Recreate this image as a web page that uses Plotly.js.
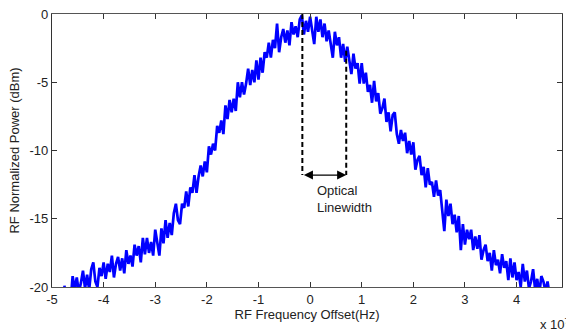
<!DOCTYPE html>
<html>
<head>
<meta charset="utf-8">
<script src="https://cdn.plot.ly/plotly-3.0.1.min.js"></script>
<style>html,body{margin:0;padding:0;background:#fff;}#chart{width:566px;height:330px;}</style>
</head>
<body>
<div id="chart"></div>
<script>
// Frequency grid (units of 1e7 Hz): first sample and spacing
const freqStart = -4.76;
const freqStep = 0.04;

// RF normalized power (dBm) (10 samples per row)
const power = [
 -19.9,-20.9,-20.1,-21.1,-19.2,-20.2,-19.3,-20.4,-19.7,-18.8,
 -20.1,-19.1,-20.2,-18.7,-18.2,-19.6,-20.0,-18.6,-19.2,-18.2,
 -19.4,-18.3,-18.9,-17.7,-19.3,-18.3,-17.8,-18.8,-17.9,-19.0,
 -17.3,-18.3,-17.7,-18.5,-16.9,-17.7,-17.0,-18.2,-16.4,-17.6,
 -16.4,-17.5,-16.7,-17.7,-15.8,-16.9,-17.7,-15.7,-16.8,-15.1,
 -16.4,-15.3,-16.2,-14.6,-13.9,-15.1,-15.4,-13.9,-14.2,-13.0,
 -14.1,-12.7,-13.1,-11.8,-13.1,-11.9,-11.1,-11.9,-10.8,-11.6,
 -9.7,-10.3,-9.5,-10.0,-8.2,-8.7,-7.8,-8.8,-6.7,-7.7,
 -6.3,-7.2,-6.2,-7.1,-5.0,-6.1,-5.0,-5.9,-5.1,-4.0,
 -5.2,-4.1,-5.0,-3.4,-4.8,-3.2,-4.3,-2.8,-3.2,-2.1,
 -3.2,-1.9,-2.5,-0.7,-2.8,-1.7,-1.1,-2.1,-1.2,-2.3,
 -0.6,-1.5,-0.9,-1.7,-0.4,-0.1,-1.5,-0.5,-1.3,-0.2,
 -1.3,-2.2,-0.2,-1.3,-0.4,-1.7,-0.7,-2.0,-1.2,-2.1,
 -3.2,-1.3,-2.3,-1.7,-3.2,-2.2,-3.5,-2.4,-3.5,-4.4,
 -2.9,-4.0,-3.6,-5.1,-3.6,-5.1,-4.3,-5.7,-5.2,-6.5,
 -4.9,-6.4,-5.8,-7.3,-6.9,-6.2,-7.9,-7.2,-8.6,-7.4,
 -7.2,-8.8,-9.5,-8.5,-9.3,-8.7,-10.2,-9.3,-10.3,-9.4,
 -11.4,-10.7,-10.4,-11.8,-11.2,-12.7,-11.3,-12.5,-12.3,-13.4,
 -12.2,-13.3,-12.9,-14.5,-15.9,-13.6,-14.8,-13.9,-15.4,-14.7,
 -16.0,-14.8,-17.3,-15.4,-16.9,-15.8,-16.5,-15.8,-17.3,-16.3,
 -17.2,-16.2,-18.0,-17.3,-16.9,-18.1,-17.5,-18.8,-17.3,-18.4,
 -18.0,-19.0,-17.6,-18.6,-18.1,-19.5,-17.9,-19.3,-18.2,-19.5,
 -18.9,-20.0,-18.3,-19.6,-18.8,-20.1,-19.6,-18.7,-20.2,-19.4,
 -20.5,-19.2,-19.6,-20.3,-19.6,-20.6,-20.1,-20.9
];

// Linewidth markers (units of 1e7 Hz / dBm)
const markLeftX = -0.15;
const markRightX = 0.70;
const markLeftTop = 0;
const markRightTop = -2.7;
const markArrowY = -11.8;
const labelText = "Optical<br>Linewidth";
const labelX = 0.1;
const labelY = -13.55;

const xTicks = [-5,-4,-3,-2,-1,0,1,2,3,4,5];
const yTicks = [-20,-15,-10,-5,0];

const font = {family: "Liberation Sans, Arial, sans-serif", size: 13, color: "#222"};
const dashLine = {color: "#000", width: 2, dash: "5px,3px"};

const trace = {
  type: "scatter", mode: "lines",
  y: power, x0: freqStart, dx: freqStep,
  line: {color: "#0000ff", width: 2.7},
  hoverinfo: "skip"
};

const layout = {
  width: 566, height: 330,
  margin: {l: 52, r: 4, t: 14, b: 43},
  paper_bgcolor: "#fff", plot_bgcolor: "#fff",
  showlegend: false,
  font: font,
  xaxis: {
    range: [-5, 4.88], tickvals: xTicks, ticktext: xTicks.map(String),
    ticks: "inside", ticklen: 5, tickcolor: "#333", showline: true, linecolor: "#555", linewidth: 1.2,
    mirror: "ticks", showgrid: false, zeroline: false, tickfont: font,
    title: {text: "RF Frequency Offset(Hz)", font: font, standoff: 4}
  },
  yaxis: {
    range: [-20, 0], tickvals: yTicks, ticktext: yTicks.map(String),
    ticks: "inside", ticklen: 5, tickcolor: "#333", showline: true, linecolor: "#333", linewidth: 1.2,
    mirror: "ticks", showgrid: false, zeroline: false, tickfont: font,
    title: {text: "RF Normalized Power (dBm)", font: font, standoff: 6}
  },
  shapes: [
    {type: "line", xref: "x", yref: "y", x0: markLeftX, x1: markLeftX, y0: markLeftTop, y1: markArrowY, line: dashLine, layer: "above"},
    {type: "line", xref: "x", yref: "y", x0: markRightX, x1: markRightX, y0: markRightTop, y1: markArrowY, line: dashLine, layer: "above"}
  ],
  annotations: [
    {xref: "x", yref: "y", axref: "x", ayref: "y", x: markRightX, y: markArrowY, ax: markLeftX, ay: markArrowY,
     text: "", showarrow: true, arrowside: "end+start", arrowhead: 2, arrowsize: 1.4, arrowwidth: 1.3, arrowcolor: "#000"},
    {xref: "x", yref: "y", x: labelX, y: labelY, text: labelText, showarrow: false,
     xanchor: "left", yanchor: "middle", align: "left", font: font},
    {xref: "paper", yref: "paper", x: (538-52)/510, y: -0.1, xanchor: "left", yanchor: "top",
     text: "x 10<sup>7</sup>", showarrow: false, font: font}
  ]
};

Plotly.newPlot("chart", [trace], layout, {displayModeBar: false, staticPlot: true});
</script>
</body>
</html>
